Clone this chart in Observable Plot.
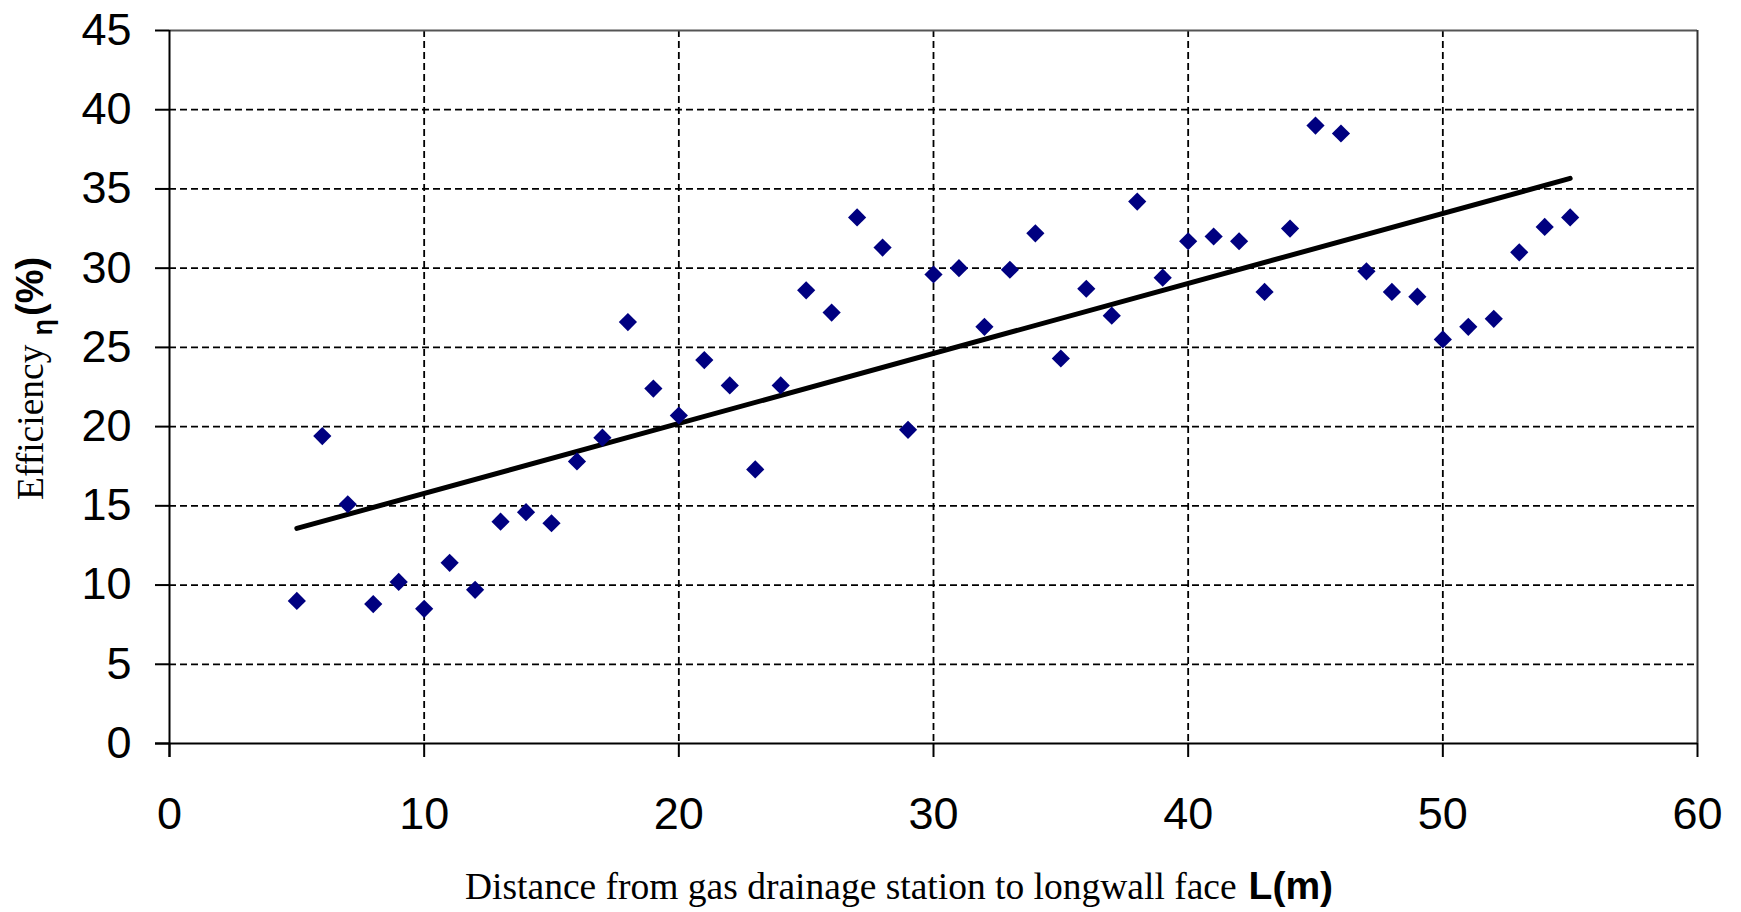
<!DOCTYPE html>
<html><head><meta charset="utf-8">
<script src="https://cdn.jsdelivr.net/npm/d3@7"></script>
<script src="https://cdn.jsdelivr.net/npm/@observablehq/plot@0.6"></script>
<style>body{margin:0;background:#fff}</style>
</head><body><div id="chart"></div>
<script>
const distance = [5,6,7,8,9,10,11,12,13,14,15,16,17,18,19,20,21,22,23,24,25,26,27,28,29,30,31,32,33,34,35,36,37,38,39,40,41,42,43,44,45,46,47,48,49,50,51,52,53,54,55];
const efficiency = [9.0,19.4,15.1,8.8,10.2,8.5,11.4,9.7,14.0,14.6,13.9,17.8,19.3,26.6,22.4,20.7,24.2,22.6,17.3,22.6,28.6,27.2,33.2,31.3,19.8,29.6,30.0,26.3,29.9,32.2,24.3,28.7,27.0,34.2,29.4,31.7,32.0,31.7,28.5,32.5,39.0,38.5,29.8,28.5,28.2,25.5,26.3,26.8,31.0,32.6,33.2];
const xTicks = [0,10,20,30,40,50,60];
const yTicks = [0,5,10,15,20,25,30,35,40,45];
const xLabel = "Distance from gas drainage station to longwall face";
const xUnit = "L(m)";
const yLabel = "Efficiency";
const ySymbol = "η";
const yUnit = "(%)";

const data = distance.map((d, i) => ({L: d, eta: efficiency[i]}));
const dash = {stroke: "#000", strokeOpacity: 1, strokeWidth: 1.8, strokeDasharray: "7,4"};

const chart = Plot.plot({
  width: 1741, height: 912,
  marginLeft: 169, marginRight: 44, marginTop: 30, marginBottom: 169,
  x: {domain: [0, 60]},
  y: {domain: [0, 45]},
  style: {fontFamily: "'Liberation Sans', Arial, sans-serif", background: "#fff", color: "#000"},
  marks: [
    Plot.gridX(xTicks.slice(1, -1), dash),
    Plot.gridY(yTicks.slice(1, -1), dash),
    Plot.ruleY([45], {stroke: "#555", strokeWidth: 2}),
    Plot.ruleX([60], {stroke: "#333", strokeWidth: 2}),
    Plot.ruleY([0], {stroke: "#000", strokeWidth: 2, insetLeft: -14}),
    Plot.ruleX([0], {stroke: "#000", strokeWidth: 2, insetBottom: -14}),
    Plot.axisX(xTicks, {tickSize: 14, tickPadding: 40, fontSize: 45, strokeWidth: 2, label: null}),
    Plot.axisY(yTicks, {tickSize: 14, tickPadding: 24, fontSize: 45, strokeWidth: 2, label: null}),
    Plot.linearRegressionY(data, {x: "L", y: "eta", stroke: "#000", strokeWidth: 5, ci: 0}),
    Plot.dot(data, {x: "L", y: "eta", symbol: "diamond2", r: 8.2, fill: "#000080"})
  ]
});
document.getElementById("chart").appendChild(chart);

const svg = d3.select(chart);
const xt = svg.append("text").attr("x", 465).attr("y", 899).attr("fill", "#000").attr("text-anchor", "start");
xt.append("tspan").attr("font-family", "'Liberation Serif', 'Times New Roman', serif").attr("font-size", 37.5).text(xLabel);
xt.append("tspan").attr("dx", 12).attr("font-family", "'Liberation Sans', Arial, sans-serif").attr("font-weight", "bold").attr("font-size", 39).text(xUnit);

const yt = svg.append("text").attr("transform", "translate(43,500) rotate(-90)").attr("fill", "#000").attr("text-anchor", "start");
yt.append("tspan").attr("font-family", "'Liberation Serif', 'Times New Roman', serif").attr("font-size", 37.5).text(yLabel);
yt.append("tspan").attr("dx", 9).attr("dy", 9).attr("font-family", "'Liberation Sans', Arial, sans-serif").attr("font-weight", "bold").attr("font-size", 27).text(ySymbol);
yt.append("tspan").attr("dx", 3).attr("dy", -9).attr("font-family", "'Liberation Sans', Arial, sans-serif").attr("font-weight", "bold").attr("font-size", 38).text(yUnit);
</script>
</body></html>
